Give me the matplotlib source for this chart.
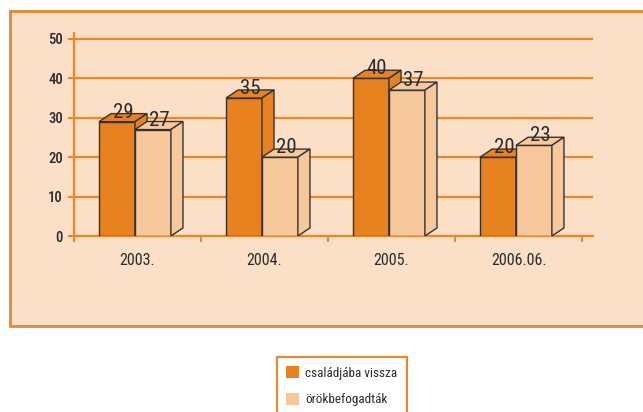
import matplotlib.pyplot as plt
from matplotlib.patches import Rectangle, Polygon, Patch

# data
years = ["2003.", "2004.", "2005.", "2006.06."]
csaladjaba = [29, 35, 40, 20]
orokbe = [27, 20, 37, 23]
series_names = ["családjába vissza", "örökbefogadták"]

dark = "#E8821E"
light = "#F7C89B"
panel = "#FBE0C7"
orange_line = "#EC8626"
text_col = "#2B2B2B"
edge = "#333333"

plt.rcParams["font.family"] = ["Roboto Condensed", "DejaVu Sans"]

fig = plt.figure(figsize=(6.43, 4.12), dpi=100)

# peach panel with orange border
fig.patches.append(Rectangle((10 / 643, 86 / 412), 1, 315 / 412,
                             transform=fig.transFigure, facecolor=panel,
                             edgecolor=orange_line, lw=2, zorder=-1))

ax = fig.add_axes([74 / 643, 176 / 412, 519 / 643, 203 / 412])
ax.set_facecolor("none")
ax.set_xlim(0, 519 / 127)
ax.set_ylim(0, 51.5)

w = 0.283          # bar width (category units)
dx, dy = 0.095, 2.05  # fake 3d depth


def bar3d(x, heights, color, z):
    bars = ax.bar(x, heights, width=w, align="edge", color=color,
                  edgecolor=edge, lw=1, zorder=z)
    for b, h in zip(bars, heights):
        x0 = b.get_x()
        top = [(x0, h), (x0 + dx, h + dy), (x0 + w + dx, h + dy), (x0 + w, h)]
        side = [(x0 + w, 0), (x0 + w + dx, dy), (x0 + w + dx, h + dy), (x0 + w, h)]
        for pts in (top, side):
            ax.add_patch(Polygon(pts, closed=True, facecolor=color,
                                 edgecolor=edge, lw=1, zorder=z))
        ax.annotate(str(h), (x0 + w / 2 + dx / 2, h), xytext=(0, 0),
                    textcoords="offset points", ha="center", va="bottom",
                    fontsize=15, color=text_col, zorder=z + 1)


idx = range(len(years))
for i in idx:
    bar3d([i + 0.197], [csaladjaba[i]], dark, 3 + 2 * i)
    bar3d([i + 0.48], [orokbe[i]], light, 4 + 2 * i)

# axes styling
for s in ("top", "right"):
    ax.spines[s].set_visible(False)
for s in ("left", "bottom"):
    ax.spines[s].set_color(orange_line)
    ax.spines[s].set_linewidth(1.6)

ax.set_yticks([0, 10, 20, 30, 40, 50])
ax.yaxis.grid(True, color=orange_line, lw=1.6)
ax.set_axisbelow(True)
ax.tick_params(axis="y", colors=orange_line, length=4, width=1.5, pad=4,
               labelcolor=text_col, labelsize=10.5)
for lab in ax.get_yticklabels():
    lab.set_fontweight("medium")

ax.set_xticks(range(len(years) + 1))
ax.set_xticklabels([])
ax.set_xticks([i + 0.5 for i in idx], years, minor=True)
ax.tick_params(axis="x", which="major", colors=orange_line, length=4, width=1.5)
ax.tick_params(axis="x", which="minor", length=0, pad=12,
               labelcolor=text_col, labelsize=11.5)

leg = fig.legend(handles=[Patch(facecolor=dark), Patch(facecolor=light)],
                 labels=series_names, loc="upper left",
                 bbox_to_anchor=(277 / 643, 1 - 357 / 412), borderaxespad=0,
                 fontsize=9.5, handlelength=1.0, handleheight=1.0,
                 labelspacing=1.0, borderpad=0.7, handletextpad=0.45,
                 fancybox=False, framealpha=1, facecolor="white",
                 edgecolor=orange_line, labelcolor=text_col)
leg.get_frame().set_linewidth(1.5)

fig.savefig("out.png", dpi=100)
